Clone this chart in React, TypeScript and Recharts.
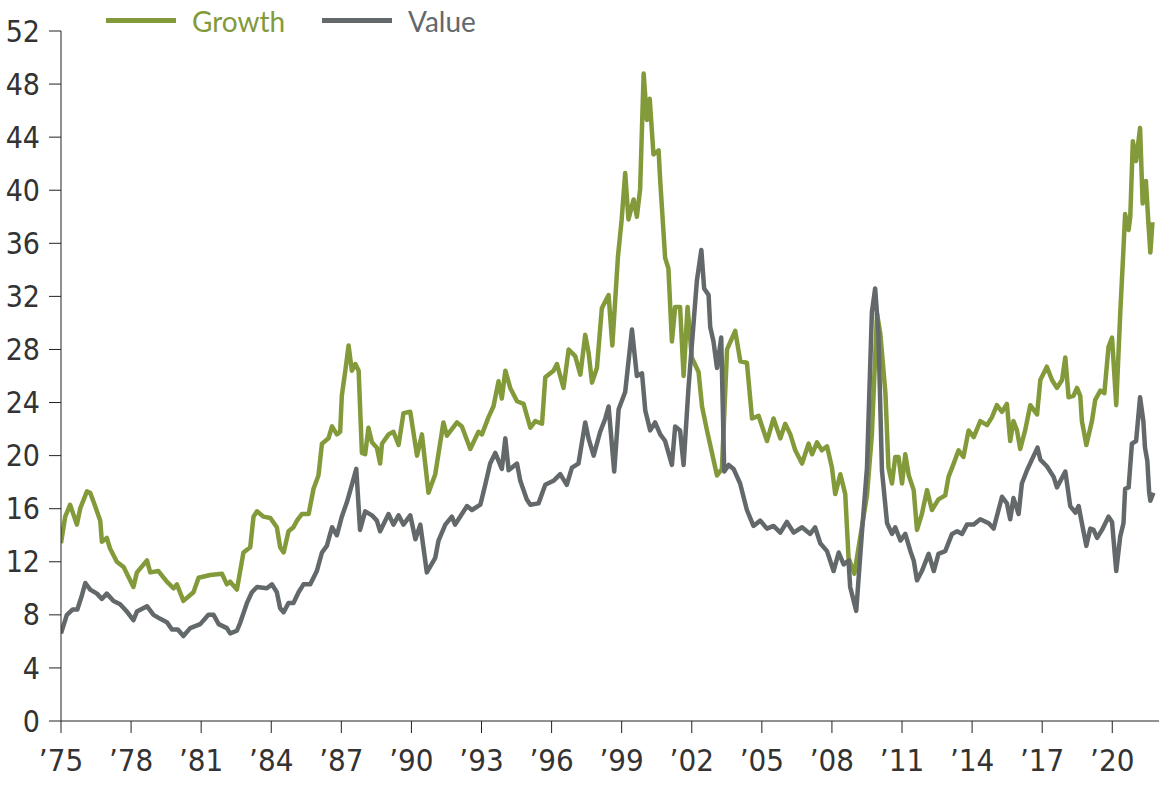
import { CartesianGrid, Line, LineChart, XAxis, YAxis } from 'recharts';

// forward P/E: fractional years and ratios
const growthYears = [
  1975.0, 1975.18, 1975.39, 1975.68, 1975.82, 1976.11, 1976.25, 1976.46, 1976.68, 1976.75, 1976.96,
  1977.1, 1977.39, 1977.68, 1978.1, 1978.25, 1978.68, 1978.82, 1979.17, 1979.53, 1979.82, 1979.96,
  1980.24, 1980.67, 1980.89, 1981.39, 1981.89, 1982.1, 1982.24, 1982.53, 1982.81, 1983.1, 1983.24,
  1983.39, 1983.67, 1983.96, 1984.24, 1984.38, 1984.53, 1984.74, 1984.95, 1985.1, 1985.31, 1985.6,
  1985.81, 1986.02, 1986.17, 1986.45, 1986.6, 1986.81, 1986.95, 1987.02, 1987.17, 1987.31, 1987.45,
  1987.6, 1987.74, 1987.88, 1988.02, 1988.16, 1988.31, 1988.52, 1988.66, 1988.74, 1989.02, 1989.23,
  1989.45, 1989.66, 1989.95, 1990.24, 1990.45, 1990.73, 1991.02, 1991.37, 1991.52, 1991.95, 1992.16,
  1992.52, 1992.87, 1993.02, 1993.3, 1993.51, 1993.73, 1993.87, 1994.02, 1994.23, 1994.52, 1994.8,
  1995.09, 1995.3, 1995.59, 1995.73, 1996.08, 1996.23, 1996.51, 1996.73, 1997.01, 1997.23, 1997.44,
  1997.58, 1997.73, 1997.94, 1998.15, 1998.44, 1998.6, 1998.84, 1999.0, 1999.15, 1999.29, 1999.51,
  1999.65, 1999.79, 1999.94, 2000.08, 2000.2, 2000.36, 2000.58, 2000.65, 2000.86, 2001.0, 2001.15,
  2001.29, 2001.5, 2001.65, 2001.82, 2002.0, 2002.29, 2002.44, 2002.65, 2002.79, 2003.08, 2003.29,
  2003.51, 2003.86, 2004.08, 2004.36, 2004.58, 2004.86, 2005.22, 2005.5, 2005.79, 2006.0, 2006.22,
  2006.43, 2006.72, 2007.0, 2007.15, 2007.36, 2007.57, 2007.79, 2008.0, 2008.14, 2008.36, 2008.57,
  2008.71, 2008.96, 2009.5, 2009.71, 2009.93, 2010.07, 2010.29, 2010.42, 2010.57, 2010.71, 2010.85,
  2011.0, 2011.14, 2011.29, 2011.5, 2011.64, 2011.85, 2012.07, 2012.28, 2012.56, 2012.85, 2012.99,
  2013.21, 2013.42, 2013.63, 2013.85, 2014.07, 2014.35, 2014.64, 2014.85, 2015.06, 2015.28, 2015.49,
  2015.63, 2015.77, 2015.92, 2016.06, 2016.27, 2016.49, 2016.78, 2016.92, 2017.2, 2017.42, 2017.63,
  2017.85, 2017.99, 2018.13, 2018.34, 2018.49, 2018.63, 2018.7, 2018.89, 2019.13, 2019.27, 2019.49,
  2019.66, 2019.84, 2019.99, 2020.17, 2020.34, 2020.46, 2020.55, 2020.7, 2020.77, 2020.88, 2021.02,
  2021.19, 2021.3, 2021.44, 2021.54, 2021.63, 2021.72,
];
const growthPE = [
  13.4, 15.4, 16.3, 14.8, 16.0, 17.3, 17.2, 16.2, 15.1, 13.5, 13.8,
  13.0, 12.0, 11.6, 10.1, 11.2, 12.1, 11.2, 11.3, 10.5, 10.0, 10.3,
  9.05, 9.7, 10.8, 11.0, 11.1, 10.3, 10.5, 9.9, 12.7, 13.1, 15.4,
  15.8, 15.4, 15.3, 14.6, 13.1, 12.7, 14.3, 14.6, 15.1, 15.6, 15.6,
  17.5, 18.5, 20.9, 21.3, 22.2, 21.6, 21.8, 24.5, 26.4, 28.3, 26.4,
  26.9, 26.4, 20.2, 20.1, 22.1, 21.0, 20.6, 19.4, 20.9, 21.6, 21.8,
  20.8, 23.2, 23.3, 20.0, 21.6, 17.2, 18.6, 22.5, 21.5, 22.5, 22.2,
  20.5, 21.8, 21.6, 22.9, 23.7, 25.6, 24.3, 26.4, 25.1, 24.1, 23.9,
  22.1, 22.6, 22.4, 25.9, 26.4, 26.9, 25.1, 28.0, 27.5, 26.1, 29.1,
  27.8, 25.5, 26.6, 31.1, 32.1, 28.3, 35.0, 37.8, 41.3, 37.8, 39.3,
  38.0, 40.1, 48.8, 45.3, 46.9, 42.7, 43.0, 40.7, 34.9, 34.1, 28.6,
  31.2, 31.2, 26.0, 31.2, 27.4, 26.3, 23.7, 21.9, 20.8, 18.5, 19.0,
  28.0, 29.4, 27.1, 27.0, 22.8, 23.0, 21.1, 22.8, 21.3, 22.4, 21.6,
  20.4, 19.4, 20.9, 20.1, 21.0, 20.4, 20.7, 19.1, 17.1, 18.6, 17.1,
  12.3, 11.1, 17.0, 21.6, 30.7, 29.2, 24.7, 19.1, 17.9, 19.9, 19.9,
  17.9, 20.1, 18.5, 17.4, 14.4, 15.6, 17.4, 15.9, 16.7, 17.0, 18.4,
  19.4, 20.4, 19.9, 21.9, 21.4, 22.6, 22.3, 22.9, 23.8, 23.3, 23.9,
  21.1, 22.6, 21.9, 20.5, 21.9, 23.8, 23.1, 25.7, 26.7, 25.7, 25.1,
  25.7, 27.4, 24.4, 24.5, 25.1, 24.5, 22.6, 20.8, 22.6, 24.2, 24.9,
  24.7, 28.2, 28.9, 23.8, 30.7, 34.9, 38.2, 37.0, 38.0, 43.7, 42.2,
  44.7, 39.0, 40.7, 37.7, 35.3, 37.6,
];

const valueYears = [
  1975.0, 1975.25, 1975.5, 1975.7, 1975.9, 1976.04, 1976.25, 1976.54, 1976.75, 1976.96, 1977.25,
  1977.53, 1977.82, 1978.1, 1978.25, 1978.68, 1978.96, 1979.25, 1979.53, 1979.75, 1980.0, 1980.24,
  1980.53, 1980.96, 1981.31, 1981.53, 1981.75, 1982.1, 1982.24, 1982.53, 1982.67, 1982.96, 1983.17,
  1983.39, 1983.81, 1984.03, 1984.24, 1984.38, 1984.53, 1984.74, 1984.95, 1985.17, 1985.38, 1985.67,
  1985.95, 1986.17, 1986.38, 1986.6, 1986.81, 1987.02, 1987.24, 1987.45, 1987.64, 1987.8, 1988.02,
  1988.31, 1988.52, 1988.66, 1989.02, 1989.23, 1989.45, 1989.66, 1989.95, 1990.17, 1990.38, 1990.66,
  1991.02, 1991.16, 1991.45, 1991.73, 1991.87, 1992.16, 1992.38, 1992.59, 1992.95, 1993.16, 1993.37,
  1993.59, 1993.87, 1994.02, 1994.16, 1994.52, 1994.66, 1994.94, 1995.09, 1995.44, 1995.73, 1996.08,
  1996.37, 1996.65, 1996.87, 1997.15, 1997.44, 1997.58, 1997.8, 1998.08, 1998.3, 1998.44, 1998.68,
  1998.87, 1999.15, 1999.44, 1999.65, 1999.87, 2000.01, 2000.22, 2000.43, 2000.65, 2000.86, 2001.15,
  2001.29, 2001.5, 2001.65, 2001.86, 2002.22, 2002.41, 2002.53, 2002.72, 2002.79, 2002.93, 2003.08,
  2003.26, 2003.39, 2003.58, 2003.79, 2004.07, 2004.36, 2004.64, 2004.93, 2005.22, 2005.5, 2005.79,
  2006.07, 2006.36, 2006.72, 2007.07, 2007.28, 2007.5, 2007.79, 2008.07, 2008.29, 2008.5, 2008.71,
  2008.78, 2009.04, 2009.28, 2009.5, 2009.71, 2009.85, 2009.99, 2010.14, 2010.36, 2010.57, 2010.71,
  2010.93, 2011.14, 2011.36, 2011.5, 2011.64, 2011.85, 2012.14, 2012.36, 2012.56, 2012.85, 2013.14,
  2013.36, 2013.57, 2013.78, 2014.07, 2014.35, 2014.71, 2014.92, 2015.28, 2015.49, 2015.63, 2015.77,
  2015.99, 2016.13, 2016.35, 2016.56, 2016.8, 2016.92, 2017.2, 2017.49, 2017.63, 2017.78, 2017.99,
  2018.2, 2018.42, 2018.56, 2018.7, 2018.89, 2019.06, 2019.2, 2019.35, 2019.56, 2019.84, 2019.99,
  2020.17, 2020.34, 2020.48, 2020.55, 2020.7, 2020.84, 2021.02, 2021.19, 2021.33, 2021.4, 2021.5,
  2021.58, 2021.63, 2021.76,
];
const valuePE = [
  6.6, 8.0, 8.4, 8.4, 9.5, 10.4, 9.9, 9.6, 9.2, 9.6, 9.05,
  8.8, 8.25, 7.6, 8.25, 8.65, 8.0, 7.7, 7.45, 6.9, 6.9, 6.4,
  7.0, 7.3, 8.0, 8.0, 7.3, 7.0, 6.6, 6.8, 7.4, 8.9, 9.7,
  10.1, 10.0, 10.3, 9.7, 8.5, 8.2, 8.9, 8.9, 9.7, 10.3, 10.3,
  11.3, 12.7, 13.2, 14.6, 14.0, 15.4, 16.5, 17.8, 19.0, 14.4, 15.8,
  15.5, 15.1, 14.3, 15.6, 14.8, 15.5, 14.8, 15.5, 13.7, 14.8, 11.2,
  12.3, 13.6, 14.8, 15.4, 14.8, 15.6, 16.2, 15.9, 16.3, 17.8, 19.4,
  20.2, 19.0, 21.3, 18.9, 19.4, 18.1, 16.7, 16.3, 16.4, 17.8, 18.1,
  18.6, 17.8, 19.1, 19.4, 22.5, 21.3, 20.0, 21.8, 22.8, 23.7, 18.8,
  23.5, 24.8, 29.5, 26.0, 26.2, 23.4, 21.9, 22.5, 21.6, 21.1, 19.3,
  22.2, 21.9, 19.3, 25.1, 33.2, 35.5, 32.6, 32.1, 29.7, 28.6, 26.6,
  28.9, 18.8, 19.3, 19.0, 17.9, 15.9, 14.7, 15.1, 14.5, 14.7, 14.2,
  15.0, 14.2, 14.6, 14.1, 14.6, 13.4, 12.8, 11.3, 12.7, 11.8, 12.1,
  10.1, 8.3, 14.1, 19.1, 30.8, 32.6, 29.2, 18.9, 14.9, 14.1, 14.6,
  13.6, 14.1, 12.8, 12.1, 10.6, 11.3, 12.6, 11.3, 12.6, 12.8, 14.1,
  14.3, 14.1, 14.8, 14.8, 15.2, 14.9, 14.5, 16.9, 16.4, 15.2, 16.8,
  15.6, 17.9, 18.9, 19.7, 20.6, 19.7, 19.2, 18.4, 17.6, 18.1, 18.8,
  16.2, 15.7, 16.2, 14.9, 13.2, 14.5, 14.4, 13.8, 14.4, 15.4, 15.0,
  11.3, 13.9, 14.9, 17.5, 17.6, 20.9, 21.1, 24.4, 22.6, 20.6, 19.6,
  17.2, 16.6, 17.2,
];

const yearTicks = [1975, 1978, 1981, 1984, 1987, 1990, 1993, 1996, 1999, 2002, 2005, 2008, 2011, 2014, 2017, 2020];
const peTicks = [0, 4, 8, 12, 16, 20, 24, 28, 32, 36, 40, 44, 48, 52];

const growthData = growthYears.map((year, i) => ({ year, pe: growthPE[i] }));
const valueData = valueYears.map((year, i) => ({ year, pe: valuePE[i] }));

const GREEN = '#839a3b';
const GREY = '#63686b';
const tickFont = "'Liberation Sans Narrow', 'DejaVu Sans Condensed', 'Roboto', sans-serif";

const LegendItem = ({ color, label, left }: { color: string; label: string; left: number }) => (
  <div style={{ position: 'absolute', left, top: 0, display: 'flex', alignItems: 'center', height: 41 }}>
    <div style={{ width: 70, height: 5, background: color }} />
    <span style={{ marginLeft: 16, color, fontSize: 28, fontFamily: 'Lato, sans-serif' }}>{label}</span>
  </div>
);

export default function App() {
  return (
    <div style={{ position: 'absolute', left: 0, top: 0, width: 1175, height: 786, background: '#fff' }}>
      <LineChart width={1175} height={786} margin={{ top: 31, right: 16, left: 0, bottom: 0 }}>
        <CartesianGrid stroke="none" />
        <XAxis
          type="number"
          dataKey="year"
          domain={[1975, 2022]}
          ticks={yearTicks}
          allowDataOverflow
          height={65}
          tickSize={12}
          tickMargin={16}
          stroke="#222"
          tick={{ fill: '#333', fontSize: 31, fontFamily: tickFont }}
          tickFormatter={(v) => '\u2019' + String(v).slice(2)}
        />
        <YAxis
          type="number"
          domain={[0, 52]}
          ticks={peTicks}
          width={61}
          tickSize={12}
          tickMargin={9}
          stroke="#222"
          tick={{ fill: '#333', fontSize: 30, fontFamily: tickFont }}
        />
        <Line
          data={growthData}
          dataKey="pe"
          type="linear"
          stroke={GREEN}
          strokeWidth={4.5}
          strokeLinejoin="round"
          dot={false}
          isAnimationActive={false}
        />
        <Line
          data={valueData}
          dataKey="pe"
          type="linear"
          stroke={GREY}
          strokeWidth={4.5}
          strokeLinejoin="round"
          dot={false}
          isAnimationActive={false}
        />
      </LineChart>
      <LegendItem color={GREEN} label="Growth" left={106} />
      <LegendItem color={GREY} label="Value" left={322} />
    </div>
  );
}
